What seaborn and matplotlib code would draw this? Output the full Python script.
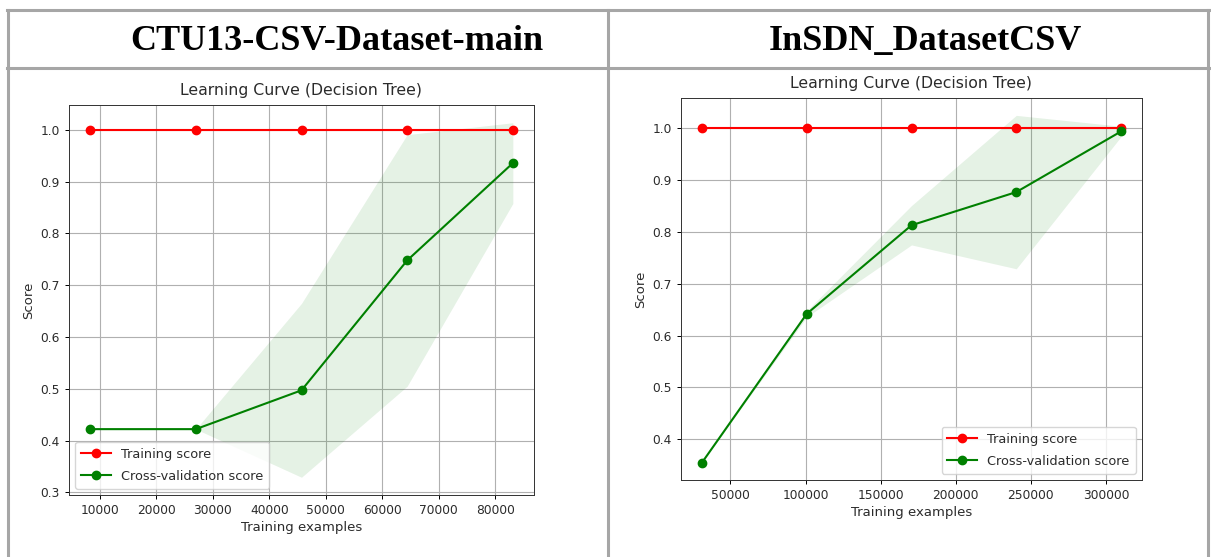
import numpy as np
import pandas as pd
import matplotlib
matplotlib.use("Agg")
import matplotlib.pyplot as plt
import seaborn as sns
from matplotlib.lines import Line2D
from matplotlib.ticker import MultipleLocator, ScalarFormatter

# ---------------- data ----------------
headers = ["CTU13-CSV-Dataset-main", "InSDN_DatasetCSV"]
plot_title = "Learning Curve (Decision Tree)"
x_label = "Training examples"
y_label = "Score"
legend_labels = ["Training score", "Cross-validation score"]

ctu_sizes = [8310, 27008, 45705, 64403, 83100]
ctu_train_mean = [1.0, 1.0, 1.0, 1.0, 1.0]
ctu_train_std = [0.0, 0.0, 0.0, 0.0, 0.0]
ctu_cv_mean = [0.422, 0.422, 0.497, 0.748, 0.936]
ctu_cv_std = [0.0, 0.0, 0.168, 0.243, 0.078]

insdn_sizes = [31000, 100750, 170500, 240250, 310000]
insdn_train_mean = [1.0, 1.0, 1.0, 1.0, 1.0]
insdn_train_std = [0.0, 0.0, 0.0, 0.0, 0.0]
insdn_cv_mean = [0.355, 0.642, 0.813, 0.877, 0.994]
insdn_cv_std = [0.0, 0.006, 0.038, 0.148, 0.010]

# ---------------- figure ----------------
W, H = 1211, 557
fig = plt.figure(figsize=(W / 100, H / 100), dpi=100)
fig.patch.set_facecolor("white")

def fx(px):
    return px / W

def fy(py):
    return 1 - py / H

# table lines
tcol = "#a6a6a6"
tlw = 2.2
for (x0, y0, x1, y1) in [(7, 10, 1209, 10), (7, 68, 1209, 68),
                         (8, 10, 8, 557), (608, 10, 608, 557), (1208, 10, 1208, 557)]:
    fig.add_artist(Line2D([fx(x0), fx(x1)], [fy(y0), fy(y1)], color=tcol, lw=tlw,
                          solid_capstyle="projecting"))

# headers
for txt, cx in zip(headers, [337, 925]):
    fig.text(fx(cx), fy(50), txt, ha="center", va="baseline",
             fontsize=26, fontweight="bold", family="Liberation Serif", color="black")

txt_col = "#2b2b2b"
s = 0.88

def draw(ax, sizes, tr_m, tr_s, cv_m, cv_s, loc, xstep):
    df = pd.DataFrame({"size": sizes, "tr": tr_m, "trs": tr_s, "cv": cv_m, "cvs": cv_s})
    ax.grid(True, color="#b0b0b0", lw=0.8)
    ax.set_axisbelow(True)
    ax.fill_between(df["size"], df["tr"] - df["trs"], df["tr"] + df["trs"], alpha=0.1, color="r", lw=0)
    ax.fill_between(df["size"], df["cv"] - df["cvs"], df["cv"] + df["cvs"], alpha=0.1, color="g", lw=0)
    sns.lineplot(data=df, x="size", y="tr", ax=ax, color="r", marker="o", label=legend_labels[0],
                 lw=1.5, markersize=6, markeredgecolor="r", markeredgewidth=1)
    sns.lineplot(data=df, x="size", y="cv", ax=ax, color="g", marker="o", label=legend_labels[1],
                 lw=1.5, markersize=6, markeredgecolor="g", markeredgewidth=1)
    ax.set_title(plot_title, fontsize=11.3, color=txt_col, pad=7)
    ax.set_xlabel(x_label, fontsize=9.5, color=txt_col, labelpad=3)
    ax.set_ylabel(y_label, fontsize=9.5, color=txt_col, labelpad=4)
    ax.xaxis.set_major_locator(MultipleLocator(xstep))
    ax.yaxis.set_major_locator(MultipleLocator(0.1))
    fmt = ScalarFormatter(useOffset=False)
    fmt.set_scientific(False)
    ax.xaxis.set_major_formatter(fmt)
    ax.tick_params(labelsize=10 * s, labelcolor=txt_col, length=3.5 * s, width=0.8 * s)
    for sp in ax.spines.values():
        sp.set_linewidth(0.8 * s)
        sp.set_color("#333333")
    leg = ax.legend(loc=loc, fontsize=9.3, handlelength=2.3, labelspacing=0.7,
                    borderpad=0.45)
    for t in leg.get_texts():
        t.set_color(txt_col)

ax1 = fig.add_axes([fx(69), fy(495), fx(534) - fx(69), fy(105) - fy(495)])
draw(ax1, ctu_sizes, ctu_train_mean, ctu_train_std, ctu_cv_mean, ctu_cv_std, "lower left", 10000)

ax2 = fig.add_axes([fx(681), fy(480), fx(1142) - fx(681), fy(98) - fy(480)])
draw(ax2, insdn_sizes, insdn_train_mean, insdn_train_std, insdn_cv_mean, insdn_cv_std, "lower right", 50000)

fig.savefig("out.png", dpi=100, facecolor="white")
